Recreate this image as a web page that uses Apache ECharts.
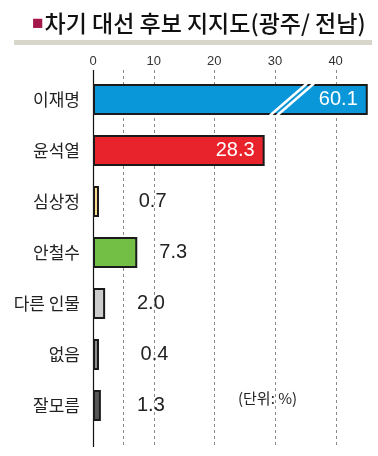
<!DOCTYPE html>
<html>
<head>
<meta charset="utf-8">
<script src="https://cdn.jsdelivr.net/npm/echarts@6/dist/echarts.min.js"></script>
<style>
  html, body { margin: 0; padding: 0; background: #fff; }
  #container { width: 378px; height: 456px; }
</style>
</head>
<body>
<div id="container"></div>
<script>
// 차기 대선 후보 지지도 (광주/전남), 단위 %
var candidates = ['이재명', '윤석열', '심상정', '안철수', '다른 인물', '없음', '잘모름'];
var support = [60.1, 28.3, 0.7, 7.3, 2.0, 0.4, 1.3];
var barColors = ['#0a97d9', '#e8232b', '#f8dc8c', '#73bf45', '#cccccc', '#8c8c8c', '#555555'];
var xTicks = [0, 10, 20, 30, 40];
var gridLines = [5, 10, 20, 30, 40];
var axisMax = 46;
var breakAt = 45.3;   // 이재명 bar is cut off here (broken bar)

var dom = document.getElementById('container');
var myChart = echarts.init(dom, null, { renderer: 'canvas' });

var numFont = '"Liberation Sans Narrow", "Liberation Sans", Arial, sans-serif';
var krFont = '"Noto Sans CJK KR", "Noto Sans", sans-serif';

var barData = support.map(function (v, i) {
    var inside = v > 20;
    return {
        value: Math.min(v, breakAt),
        realValue: v,
        itemStyle: { color: barColors[i] },
        label: inside ? {
            position: 'insideRight',
            distance: 10,
            color: '#fff'
        } : {
            position: 'right',
            distance: Math.max(22, 44 - v * 6.07),
            color: '#222'
        }
    };
});

var option = {
    animation: false,
    title: {
        text: '{sq|■}{t|차기 대선 후보 지지도(광주/ 전남)}',
        left: 27,
        top: 7,
        textStyle: {
            rich: {
                sq: { color: '#a3174b', fontSize: 19, padding: [0, 1, 0, 0] },
                t: { color: '#111', fontSize: 23, fontFamily: krFont, fontWeight: 500 }
            }
        }
    },
    grid: { left: 93, right: 6, top: 74, bottom: 25 },
    xAxis: {
        type: 'value',
        position: 'top',
        min: 0,
        max: axisMax,
        interval: 10,
        axisLine: { show: false },
        axisTick: { show: false },
        splitLine: { show: false },
        axisLabel: {
            margin: 6,
            color: '#333',
            fontSize: 13,
            fontFamily: numFont,
            showMaxLabel: false,
            formatter: function (v) { return xTicks.indexOf(v) >= 0 ? String(v) : ''; }
        }
    },
    yAxis: {
        type: 'category',
        inverse: true,
        data: candidates,
        axisLine: { show: false },
        axisTick: { show: false },
        axisLabel: {
            margin: 13,
            color: '#222',
            fontSize: 17,
            fontFamily: krFont
        }
    },
    series: [{
        type: 'bar',
        data: barData,
        barWidth: 31,
        barMinHeight: 6,
        z: 5,
        itemStyle: { borderColor: '#1a1a1a', borderWidth: 2 },
        label: {
            show: true,
            fontSize: 20,
            fontFamily: numFont,
            formatter: function (p) { return p.data.realValue.toFixed(1); }
        }
    }]
};

myChart.setOption(option);

// dashed guide lines, y axis line, title rule, break mark, unit note
function px(v) { return myChart.convertToPixel({ xAxisIndex: 0 }, v); }
function py(i) { return myChart.convertToPixel({ yAxisIndex: 0 }, i); }

var g = [];
g.push({ type: 'rect', shape: { x: 14, y: 40, width: 358, height: 5 }, style: { fill: '#d8d6cb' }, z: 1 });
gridLines.forEach(function (v) {
    var x = Math.round(px(v)) + 0.5;
    g.push({
        type: 'line', shape: { x1: x, y1: 70, x2: x, y2: 447 },
        style: { stroke: '#8a8a8a', lineWidth: 1, lineDash: [3, 3] }, z: 0
    });
});
var x0 = Math.round(px(0)) + 0.5;
g.push({ type: 'line', shape: { x1: x0, y1: 70, x2: x0, y2: 447 }, style: { stroke: '#111', lineWidth: 1.2 }, z: 0 });

var yc = py(0), bx = px(30);
[0, 7].forEach(function (d) {
    g.push({
        type: 'line',
        shape: { x1: bx + d - 5, y1: yc + 16, x2: bx + d + 32, y2: yc - 16 },
        style: { stroke: '#fff', lineWidth: 2.5 }, z: 30
    });
});
g.push({
    type: 'text', left: 238, top: 391,
    style: { text: '(단위: %)', fill: '#222', font: '15px ' + krFont }, z: 30
});
myChart.setOption({ graphic: g });

window.addEventListener('resize', myChart.resize);
</script>
</body>
</html>
